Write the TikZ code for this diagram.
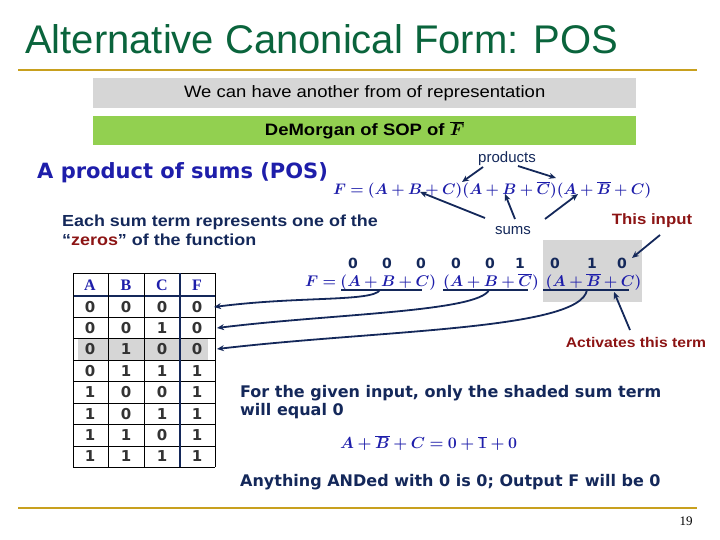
\documentclass[tikz,border=0pt]{standalone}
\usepackage{bm}
\usepackage{graphicx}
\usepackage{fontspec}
\setmainfont{Liberation Sans}
\newfontfamily\dv{DejaVu Sans}
\newfontfamily\wsans[FakeStretch=1.12]{Liberation Sans}
\newfontfamily\serif{Liberation Serif}
\usetikzlibrary{arrows.meta}
\definecolor{tgreen}{RGB}{10,100,60}
\definecolor{gold}{RGB}{200,160,30}
\definecolor{lgreen}{RGB}{146,208,80}
\definecolor{navy}{RGB}{20,40,90}
\definecolor{mblue}{RGB}{30,30,170}
\definecolor{dred}{RGB}{140,20,20}
\definecolor{lgray}{RGB}{214,214,214}
\newcommand{\meq}[2]{\scalebox{#1}{$\bm{#2}$}}
\tikzset{
 arr/.style={draw=navy,line width=1.8pt,-{Stealth[length=7pt,width=6pt]}},
 navytxt/.style={text=navy,font=\wsans\fontsize{16}{18}\selectfont\bfseries,inner sep=0pt},
 mth/.style={text=mblue,font=\fontsize{14.4}{18}\selectfont,inner sep=0pt},
 dig/.style={font=\dv\fontsize{15}{17}\selectfont\bfseries,text=black!80,inner sep=0pt},
 hdr/.style={font=\serif\fontsize{16}{17}\selectfont\bfseries,text=mblue,inner sep=0pt},
 zer/.style={font=\dv\fontsize{14}{16}\selectfont\bfseries,text=navy,inner sep=0pt},
}
\begin{document}
\begin{tikzpicture}[x=1pt,y=-1pt]
\useasboundingbox (0,0) rectangle (720,540);
\node[anchor=base west,text=tgreen,font=\fontsize{40}{42}\selectfont,inner sep=0pt] (title) at (25,54) {Alternative Canonical Form: POS};
\draw[gold,line width=2.5pt] (18,70) -- (697,70);
\draw[gold,line width=2pt] (18,508) -- (697,508);
\node[fill=lgray,minimum width=543pt,minimum height=30pt,anchor=north west,inner sep=0pt,font=\wsans\fontsize{16.5}{17}\selectfont] (b1) at (93,78) {We can have another from of representation};
\node[fill=lgreen,minimum width=543pt,minimum height=29pt,anchor=north west,inner sep=0pt,font=\wsans\fontsize{16.5}{17}\selectfont\bfseries] (b2) at (93,116) {DeMorgan of SOP of $\bm{\overline{F}}$};
\node[anchor=west,text=mblue,font=\dv\fontsize{21}{22}\selectfont\bfseries,inner sep=0pt] (pos) at (37,173) {A product of sums (POS)};
\node[mth,anchor=west] (eq1) at (333,190) {\meq{1.06}{F=(A+B+C)(A+B+\overline{C})(A+\overline{B}+C)}};
\node[font=\fontsize{15}{17}\selectfont,text=navy,inner sep=1pt] (prod) at (507,159) {products};
\node[font=\fontsize{15}{17}\selectfont,text=navy,inner sep=1pt] (sums) at (513,231) {sums};
\coordinate (p1) at (462,182); \coordinate (p2) at (556,178);
\draw[arr] (483,167) -- (p1);
\draw[arr] (518,166) -- (p2);
\coordinate (s1) at (420,192); \coordinate (s2) at (505,194); \coordinate (s3) at (578,194);
\draw[arr] (485,218) -- (s1);
\draw[arr] (515,219) -- (s2);
\draw[arr] (545,219) -- (s3);
\node[navytxt,anchor=west] (each1) at (62,222) {Each sum term represents one of the};
\node[navytxt,anchor=west] (each2) at (62,240) {“\textcolor{dred}{zeros}” of the function};
\node[font=\wsans\fontsize{15}{17}\selectfont\bfseries,text=dred,inner sep=0pt] (inp) at (652,221) {This input};
\fill[lgray] (543,240) rectangle (642,302);
\foreach \x/\v [count=\i] in {353/0,387/0,421/0,456/0,490/0,520/1,555/0,592/1,622/0}
  \node[zer] (z\i) at (\x,263) {\v};
\node[mth,anchor=west] (eq2) at (305,282) {\meq{1.075}{F=(A+B+C)\;\,(A+B+\overline{C})\;\,(A+\overline{B}+C)}};
\draw[navy,line width=2pt] (341,290) -- (422,290);
\draw[navy,line width=2pt] (443,290) -- (528,290);
\draw[navy,line width=2pt] (543,290) -- (629,290);
\draw[arr] (660,235) -- (632,258);
\node[font=\wsans\fontsize{14}{16}\selectfont\bfseries,text=dred,inner sep=0pt] (act) at (636,342) {Activates this term};
\draw[arr] (630,330) -- (614,292);
\fill[lgray] (78,339) rectangle (208,360);
\foreach \y in {273,317,338,360,381,403,424,446,467} \draw[black,line width=0.8pt] (73,\y) -- (215,\y);
\draw[navy,line width=2.5pt] (73,296) -- (215,296);
\foreach \x in {73,108,144,215} \draw[black,line width=0.8pt] (\x,273) -- (\x,467);
\draw[navy,line width=2.5pt] (180,273) -- (180,467);
\node[hdr] (hA) at (90,285) {A};
\node[hdr] (hB) at (126,285) {B};
\node[hdr] (hC) at (162,285) {C};
\node[hdr] (hF) at (197,285) {F};
\foreach \a/\b/\c/\f [count=\r] in {0/0/0/0,0/0/1/0,0/1/0/0,0/1/1/1,1/0/0/1,1/0/1/1,1/1/0/1,1/1/1/1}{
  \pgfmathsetmacro\yy{296+(\r-0.5)*21.4}
  \node[dig] at (90,\yy) {\a};
  \node[dig] at (126,\yy) {\b};
  \node[dig] at (162,\yy) {\c};
  \node[dig] at (197,\yy) {\f};
}
\coordinate (r1) at (214,307); \coordinate (r2) at (217,328); \coordinate (r3) at (217,349);
\draw[arr] (380,290) .. controls (372,302) and (300,296) .. (r1);
\draw[arr] (489,290) .. controls (478,312) and (330,314) .. (r2);
\draw[arr] (587,290) .. controls (580,330) and (380,330) .. (r3);
\node[text=navy,font=\dv\fontsize{16}{18}\selectfont\bfseries,anchor=west,align=left,inner sep=0pt] (given) at (240,402) {For the given input, only the shaded sum term\\will equal 0};
\node[mth,anchor=west] (eq3) at (340,443) {\meq{1.11}{A+\overline{B}+C=0+\overline{1}+0}};
\node[text=navy,font=\dv\fontsize{16}{18}\selectfont\bfseries,anchor=west,inner sep=0pt] (any) at (240,482) {Anything ANDed with 0 is 0; Output F will be 0};
\node[font=\serif\fontsize{13}{15}\selectfont,inner sep=0pt] (pg) at (686,521) {19};
\end{tikzpicture}
\end{document}
